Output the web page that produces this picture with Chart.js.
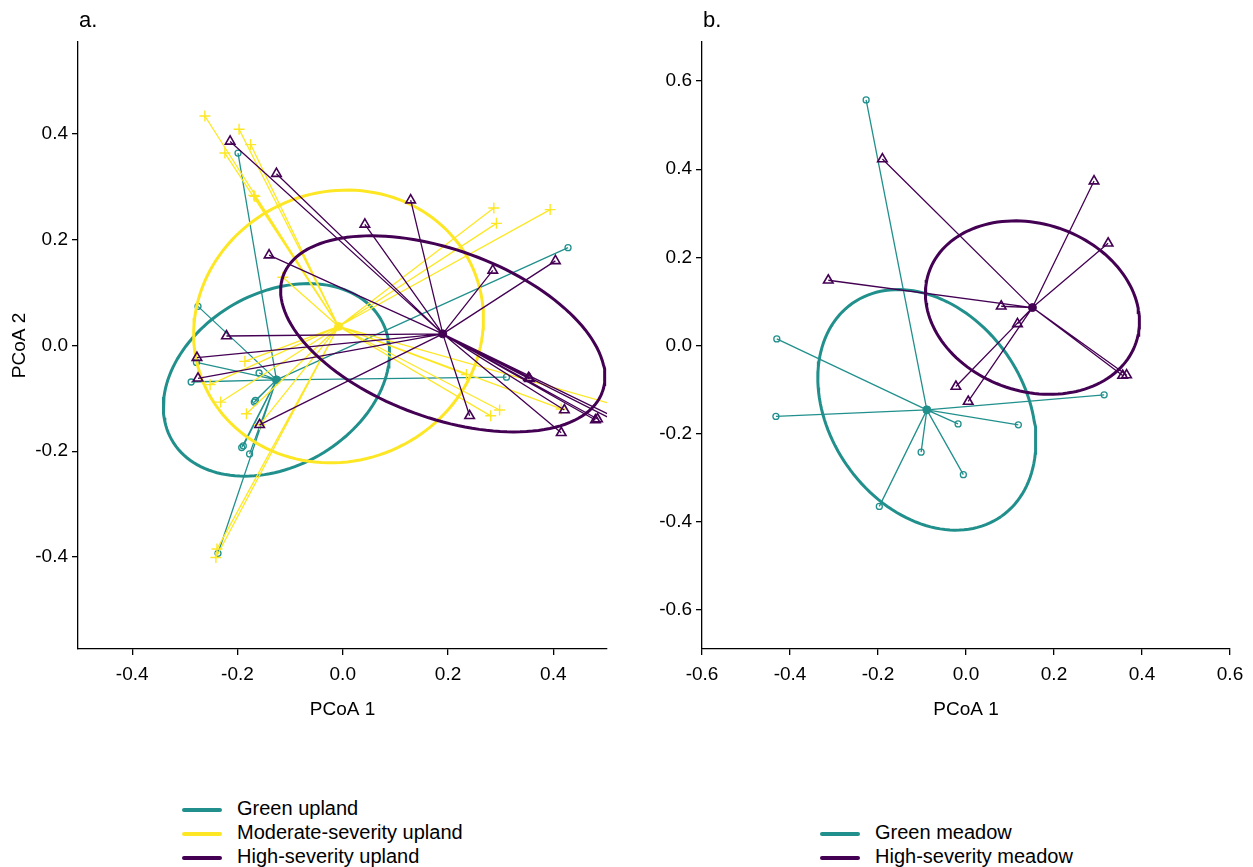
<!DOCTYPE html>
<html>
<head>
<meta charset="utf-8">
<script src="https://cdn.jsdelivr.net/npm/chart.js@4.4.1/dist/chart.umd.min.js"></script>
<style>
  body { margin: 0; background: #fff; width: 1253px; height: 867px; position: relative; overflow: hidden;
         font-family: "Liberation Sans", Arial, sans-serif; color: #000; }
  canvas { position: absolute; top: 0; }
  #chartA { left: 0; }
  #chartB { left: 624px; }
  .panel { position: absolute; top: 9px; font-size: 22px; line-height: 22px; }
  .legend { position: absolute; font-size: 20px; line-height: 24px; }
  .legend div { white-space: nowrap; }
  .legend span { display: inline-block; width: 40px; height: 4px; margin-right: 15px; vertical-align: middle; border-radius: 2px; }
</style>
</head>
<body>
<canvas id="chartA" width="624" height="740"></canvas>
<canvas id="chartB" width="629" height="740"></canvas>
<div class="panel" style="left:79px">a.</div>
<div class="panel" style="left:703px">b.</div>
<div class="legend" style="left:182px; top:796px">
  <div><span style="background:#21908C"></span>Green upland</div>
  <div><span style="background:#FDE725"></span>Moderate-severity upland</div>
  <div><span style="background:#440154"></span>High-severity upland</div>
</div>
<div class="legend" style="left:820px; top:820px">
  <div><span style="background:#21908C"></span>Green meadow</div>
  <div><span style="background:#440154"></span>High-severity meadow</div>
</div>
<script>
const GREEN = '#21908C', YELLOW = '#FDE725', PURPLE = '#440154';

// tick labels
const ticksA = [-0.4, -0.2, 0, 0.2, 0.4];
const ticksB = [-0.6, -0.4, -0.2, 0, 0.2, 0.4, 0.6];

// panel a: upland sites [PCoA1, PCoA2]
const greenUpland = [
  [-0.199, 0.364], [-0.275, 0.074], [-0.278, -0.032], [-0.288, -0.069], [-0.159, -0.052],
  [-0.168, -0.107], [-0.166, -0.104], [-0.192, -0.193], [-0.189, -0.190], [-0.177, -0.205],
  [-0.237, -0.393], [0.428, 0.185], [0.311, -0.060]
];
const moderateUpland = [
  [-0.262, 0.434], [-0.197, 0.409], [-0.224, 0.364], [-0.175, 0.380], [-0.169, 0.284], [-0.167, 0.282],
  [-0.114, 0.129], [0.287, 0.260], [0.292, 0.231], [0.394, 0.257], [0.235, -0.055], [0.298, -0.122],
  [0.281, -0.133], [0.415, -0.120], [0.58, -0.130], [-0.186, -0.030], [-0.252, -0.074], [-0.232, -0.107],
  [-0.183, -0.129], [-0.158, -0.150], [-0.239, -0.385], [-0.241, -0.401]
];
const highUpland = [
  [-0.214, 0.386], [-0.126, 0.325], [0.042, 0.229], [-0.140, 0.171], [0.129, 0.275], [0.285, 0.142],
  [0.404, 0.160], [0.353, -0.061], [0.355, -0.063], [0.241, -0.133], [0.421, -0.122], [0.415, -0.165],
  [0.484, -0.139], [0.480, -0.141], [0.70, -0.224], [0.68, -0.224], [-0.221, 0.018], [-0.277, -0.023],
  [-0.275, -0.062], [-0.158, -0.150]
];
const centroidsA = [[-0.126, -0.065], [-0.008, 0.036], [0.190, 0.022]];
// ellipse: semi-axis a, semi-axis b, rotation (degrees)
const ellipsesA = [[0.229, 0.164, 29.7], [0.278, 0.255, 20.5], [0.3225, 0.159, -19.9]];

// panel b: meadow sites
const greenMeadow = [
  [-0.227, 0.557], [-0.430, 0.015], [-0.432, -0.161], [-0.197, -0.365], [-0.102, -0.242],
  [-0.018, -0.178], [-0.006, -0.293], [0.119, -0.180], [0.314, -0.112]
];
const highMeadow = [
  [-0.190, 0.423], [-0.313, 0.148], [0.291, 0.373], [0.323, 0.232], [0.080, 0.089],
  [0.117, 0.049], [-0.023, -0.093], [0.005, -0.127], [0.356, -0.068], [0.365, -0.067]
];
const centroidsB = [[-0.089, -0.146], [0.151, 0.086]];
const ellipsesB = [[0.295, 0.221, -55], [0.2485, 0.19, -18.6]];

Chart.defaults.font.family = '"Liberation Sans", Arial, sans-serif';
Chart.defaults.font.size = 19;
Chart.defaults.color = '#000';

function ellipse(c, e) {
  const [cx, cy] = c, [a, b, deg] = e;
  const th = deg * Math.PI / 180, pts = [];
  for (let i = 0; i <= 140; i++) {
    const t = i / 140 * 2 * Math.PI;
    pts.push({
      x: cx + a * Math.cos(t) * Math.cos(th) - b * Math.sin(t) * Math.sin(th),
      y: cy + a * Math.cos(t) * Math.sin(th) + b * Math.sin(t) * Math.cos(th)
    });
  }
  return pts;
}

function spider(c, pts) {
  const out = [];
  pts.forEach(p => out.push({x: c[0], y: c[1]}, {x: p[0], y: p[1]}, {x: NaN, y: NaN}));
  return out;
}

function group(pts, c, e, color, shape, r, bw, order) {
  return [
    { data: ellipse(c, e), showLine: true, borderColor: color, borderWidth: 3, pointRadius: 0, fill: false, order },
    { data: spider(c, pts), showLine: true, spanGaps: false, borderColor: color, borderWidth: 1.3, pointRadius: 0, order },
    { data: pts.map(p => ({x: p[0], y: p[1]})), showLine: false, pointStyle: shape, pointRadius: r,
      borderColor: color, backgroundColor: 'rgba(0,0,0,0)', pointBorderWidth: bw, order },
    { data: [{x: c[0], y: c[1]}], showLine: false, pointStyle: 'circle', pointRadius: 4,
      backgroundColor: color, borderColor: color, order }
  ];
}

function axis(ticks, min, max, title, isX) {
  return {
    type: 'linear', min, max,
    afterBuildTicks: s => { s.ticks = ticks.map(v => ({value: v})); },
    afterFit: s => { if (isX) s.height = 80; else s.width = 78; },
    ticks: { callback: v => v.toFixed(1), padding: isX ? 8 : 4, maxRotation: 0, autoSkip: false },
    grid: { display: true, drawOnChartArea: false, drawTicks: true, tickLength: 6, color: '#000', lineWidth: 1.3 },
    border: { display: true, color: '#000', width: 1.3 },
    title: { display: !!title, text: title, font: { size: 19 }, padding: isX ? { bottom: 8 } : { top: 8 } }
  };
}

function makeChart(id, datasets, xr, yr, xt, yt, yTitle, padRight) {
  return new Chart(document.getElementById(id), {
    type: 'scatter',
    data: { datasets },
    options: {
      responsive: false,
      animation: false,
      devicePixelRatio: 1,
      layout: { padding: { top: 42, right: padRight, bottom: 11, left: 0 } },
      plugins: { legend: { display: false }, tooltip: { enabled: false } },
      scales: {
        x: axis(xt, xr[0], xr[1], 'PCoA 1', true),
        y: axis(yt, yr[0], yr[1], yTitle, false)
      }
    }
  });
}

makeChart('chartA', [
  ...group(highUpland, centroidsA[2], ellipsesA[2], PURPLE, 'triangle', 5.5, 1.6, 1),
  ...group(moderateUpland, centroidsA[1], ellipsesA[1], YELLOW, 'cross', 5.5, 1.4, 2),
  ...group(greenUpland, centroidsA[0], ellipsesA[0], GREEN, 'circle', 3, 1.3, 3)
], [-0.503, 0.502], [-0.574, 0.574], ticksA, ticksA, 'PCoA 2', 17);

makeChart('chartB', [
  ...group(highMeadow, centroidsB[1], ellipsesB[1], PURPLE, 'triangle', 5.5, 1.6, 1),
  ...group(greenMeadow, centroidsB[0], ellipsesB[0], GREEN, 'circle', 3, 1.3, 2)
], [-0.6, 0.6], [-0.6885, 0.6885], ticksB, ticksB, '', 23);
</script>
</body>
</html>
